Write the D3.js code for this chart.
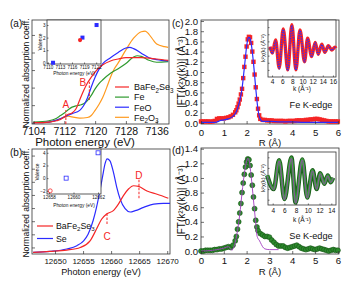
<!DOCTYPE html>
<html><head><meta charset="utf-8">
<script src="https://cdn.jsdelivr.net/npm/d3@7"></script>
<style>body{margin:0;background:#fff} text{font-family:"Liberation Sans",Arial,sans-serif}</style>
</head><body><svg id="fig" width="358" height="288"></svg>
<script>
// ---- (a) Fe K-edge XANES [energy eV, normalized mu]
const feBfs = [[7104,0.02],[7108,0.03],[7110,0.05],[7111,0.07],[7112,0.11],[7113,0.15],[7114,0.17],[7115,0.23],[7116,0.37],[7117,0.51],[7118,0.63],[7119,0.72],[7120,0.80],[7122,0.91],[7124,0.97],[7126,1.00],[7128,1.02],[7132,1.02],[7136,1.00],[7139,0.98]]
const feFoil = [[7104,0.03],[7108,0.05],[7110,0.09],[7111,0.13],[7112,0.17],[7113,0.22],[7114,0.26],[7115,0.28],[7116,0.29],[7117,0.31],[7118,0.36],[7119,0.44],[7120,0.54],[7121,0.62],[7122,0.68],[7124,0.78],[7126,0.85],[7128,0.93],[7130,1.03],[7131,1.05],[7132,1.04],[7134,0.98],[7136,0.95],[7139,0.96]]
const feO = [[7104,0.02],[7108,0.03],[7110,0.06],[7112,0.11],[7114,0.16],[7116,0.21],[7117,0.28],[7118,0.40],[7119,0.57],[7120,0.72],[7121,0.84],[7122,0.93],[7124,1.02],[7126,1.10],[7128,1.17],[7129,1.18],[7130,1.16],[7132,1.09],[7134,1.02],[7136,0.99],[7139,0.97]]
const fe2o3 = [[7104,0.02],[7108,0.03],[7110,0.06],[7112,0.10],[7113,0.12],[7114,0.11],[7116,0.09],[7118,0.10],[7119,0.13],[7120,0.21],[7121,0.30],[7122,0.41],[7123,0.56],[7124,0.72],[7125,0.85],[7126,0.94],[7128,1.14],[7130,1.32],[7132,1.42],[7133,1.43],[7134,1.38],[7135,1.30],[7136,1.23],[7138,1.19],[7139,1.18]]
const aTicks = [7104, 7112, 7120, 7128, 7136]
const aYTicks = [0.02, 0.29, 0.56, 0.83, 1.1, 1.37]
const aMarks = [{t:'A', e:7112.4, y0:0, y1:0.215, ly:0.31, lx:7112.4}, {t:'B', e:7118.5, y0:0.37, y1:0.65, ly:0.65, lx:7116.8}]
// inset (a): edge position vs valence
const valFeRef = [[7111.3,0],[7118.6,2],[7122.1,3]]
const valFeBfs = [[7118.0,1.8]]
const aInsetTicks = [7110, 7113, 7116, 7119, 7122]

// ---- (b) Se K-edge XANES
const seBfs = [[12646.1,0.026],[12649.1,0.04],[12652.1,0.06],[12654.5,0.10],[12656.25,0.20],[12657.4,0.38],[12658.3,0.53],[12659.2,0.61],[12660.4,0.66],[12661.3,0.76],[12662.2,0.89],[12663.1,0.99],[12664.0,1.04],[12664.9,1.03],[12666.4,0.96],[12668.2,0.91],[12670.2,0.85]]
const seRef = [[12646.1,0.026],[12649.1,0.04],[12652.1,0.076],[12653.9,0.127],[12655.1,0.20],[12655.9,0.30],[12656.8,0.51],[12657.4,0.71],[12658.0,0.96],[12658.5,1.19],[12658.9,1.37],[12659.3,1.45],[12659.8,1.42],[12660.4,1.25],[12661.0,1.02],[12661.6,0.84],[12662.5,0.69],[12663.4,0.64],[12664.3,0.66],[12665.8,0.71],[12667.6,0.76],[12669.3,0.77],[12670.5,0.77]]
const bTicks = [12650, 12655, 12660, 12665, 12670]
const bYTicks = [0.1, 0.3, 0.5, 0.7, 0.9, 1.1, 1.3, 1.5]
const bMarks = [{t:'C', e:12659.27, y0:0.457, y1:0.64, ly:0.27, lx:12659.27}, {t:'D', e:12664.97, y0:0.85, y1:1.14, ly:1.2, lx:12664.97}]
const valSeRef = [[12659.4,0],[12662.0,4]]
const valSeBfs = [[12658.1,-2]]
const bInsetTicks = [12658, 12660, 12662]

// ---- (c) Fe K-edge |FT| [R, value]
const ftFe = [[0,0.03],[0.1,0.03],[0.2,0.03],[0.3,0.03],[0.4,0.025],[0.5,0.03],[0.6,0.04],[0.7,0.08],[0.8,0.09],[0.9,0.09],[1.0,0.09],[1.1,0.10],[1.2,0.11],[1.3,0.13],[1.4,0.16],[1.5,0.21],[1.55,0.25],[1.6,0.31],[1.65,0.38],[1.7,0.46],[1.75,0.56],[1.8,0.67],[1.85,0.88],[1.9,1.10],[1.95,1.30],[2.0,1.50],[2.05,1.64],[2.1,1.69],[2.15,1.68],[2.2,1.57],[2.25,1.40],[2.3,1.20],[2.35,0.95],[2.4,0.70],[2.45,0.47],[2.5,0.28],[2.55,0.15],[2.6,0.08],[2.7,0.06],[2.8,0.06],[2.9,0.05],[3.0,0.05],[3.1,0.05],[3.2,0.04],[3.3,0.04],[3.4,0.04],[3.5,0.04],[3.6,0.04],[3.7,0.03],[3.8,0.04],[3.9,0.04],[4.0,0.04],[4.1,0.04],[4.2,0.05],[4.3,0.05],[4.4,0.05],[4.5,0.05],[4.6,0.06],[4.7,0.06],[4.8,0.07],[4.9,0.07],[5.0,0.08],[5.1,0.08],[5.2,0.07],[5.3,0.06],[5.4,0.05],[5.5,0.04],[5.6,0.03],[5.7,0.03],[5.8,0.03],[5.9,0.03],[6.0,0.03]]
const ftFeFit = [[0,0.01],[0.5,0.01],[0.7,0.02],[0.8,0.04],[1.0,0.06],[1.2,0.08],[1.4,0.13],[1.5,0.18],[1.6,0.28],[1.7,0.44],[1.8,0.68],[1.9,1.08],[2.0,1.50],[2.05,1.64],[2.1,1.68],[2.15,1.66],[2.2,1.56],[2.3,1.18],[2.4,0.68],[2.5,0.26],[2.6,0.07],[2.7,0.03],[3.0,0.03],[3.5,0.02],[4.0,0.02],[4.5,0.01],[5.0,0.01],[5.5,0.01],[6.0,0.01]]
const cYTicks = [0, 0.2, 0.4, 0.6, 0.8, 1.0, 1.2, 1.4, 1.6, 1.8, 2.0]
// inset (c): k^2 chi(k) [k, value]
const chiFe = [[3.6,0.8],[4.06,-1.9],[4.7,3.6],[5.4,-8.2],[6.2,8.2],[7.1,-9.0],[7.9,10.0],[8.7,-9.0],[9.5,7.8],[10.4,-5.6],[11.0,4.3],[11.8,-3.4],[12.5,2.6],[13.1,-2.4],[13.8,1.8],[14.4,-1.6],[15.1,1.2],[15.75,-0.6],[16.4,0.5],[16.6,0.1]]
const chiFeFit = [[3.6,0.5],[4.06,-2.2],[4.7,3.2],[5.4,-8.5],[6.2,8.0],[7.1,-9.3],[7.9,9.8],[8.7,-9.2],[9.5,7.6],[10.4,-5.8],[11.0,4.1],[11.8,-3.6],[12.5,2.5],[13.1,-2.5],[13.8,1.6],[14.4,-1.7],[15.1,1.1],[15.75,-0.7],[16.4,0.4],[16.6,0.1]]
const cInsetTicks = [4, 6, 8, 10, 12, 14, 16]

// ---- (d) Se K-edge |FT|
const ftSe = [[0,0],[0.1,0],[0.2,0.01],[0.3,0.01],[0.4,0.01],[0.5,0.01],[0.6,0.02],[0.7,0.02],[0.8,0.03],[0.9,0.03],[1.0,0.04],[1.1,0.05],[1.2,0.06],[1.3,0.05],[1.4,0.08],[1.5,0.14],[1.55,0.20],[1.6,0.30],[1.65,0.40],[1.7,0.52],[1.75,0.65],[1.8,0.80],[1.85,0.93],[1.9,1.05],[1.95,1.15],[2.0,1.22],[2.05,1.26],[2.1,1.25],[2.15,1.17],[2.2,1.04],[2.25,0.90],[2.3,0.74],[2.35,0.58],[2.4,0.42],[2.45,0.33],[2.5,0.28],[2.6,0.24],[2.7,0.22],[2.8,0.20],[2.9,0.20],[3.0,0.19],[3.1,0.15],[3.2,0.12],[3.3,0.09],[3.4,0.07],[3.5,0.07],[3.6,0.07],[3.7,0.05],[3.8,0.04],[3.9,0.05],[4.0,0.06],[4.1,0.07],[4.2,0.08],[4.3,0.06],[4.4,0.04],[4.5,0.03],[4.6,0.02],[4.7,0.03],[4.8,0.04],[4.9,0.03],[5.0,0.02],[5.1,0.03],[5.2,0.04],[5.3,0.03],[5.4,0.02],[5.5,0.01],[5.6,0],[5.7,0.01],[5.8,0.02],[5.9,0.01],[6.0,0.01]]
const ftSeFit = [[0,0],[0.5,0.01],[1.0,0.04],[1.2,0.06],[1.3,0.03],[1.35,0.01],[1.4,0.03],[1.5,0.12],[1.6,0.28],[1.7,0.50],[1.8,0.80],[1.9,1.06],[2.0,1.23],[2.05,1.27],[2.1,1.25],[2.2,1.02],[2.3,0.70],[2.4,0.38],[2.45,0.22],[2.5,0.17],[2.55,0.15],[2.6,0.12],[2.7,0.06],[2.8,0.03],[3.0,0.02],[3.2,0.02],[3.4,0.02]]
const dYTicks = [0, 0.2, 0.4, 0.6, 0.8, 1.0, 1.2, 1.4]
const chiSe = [[3.06,1.15],[4.17,-4.0],[5.1,6.9],[6.0,-7.8],[7.2,7.9],[7.9,-9.1],[9.05,7.2],[9.9,-7.2],[10.8,3.1],[11.5,-4.0],[12.1,2.0],[12.8,-2.0],[13.4,1.15],[13.9,-1.4],[14.3,0.3]]
const chiSeFit = [[3.06,0.9],[4.17,-4.2],[5.1,6.6],[6.0,-8.0],[7.2,7.6],[7.9,-9.3],[9.05,7.0],[9.9,-7.4],[10.8,2.9],[11.5,-4.1],[12.1,1.8],[12.8,-2.1],[13.4,1.0],[13.9,-1.5],[14.3,0.2]]
const dInsetTicks = [4, 6, 8, 10, 12, 14]
const rTicks = [0, 1, 2, 3, 4, 5, 6]

const RED = '#f52525', GREEN = '#2f9a2f', BLUE = '#2b2bff', ORANGE = '#ff9a1f', PURPLE = '#a23cc0'
const INT = d3.format('d')
const svg = d3.select('#fig')

function panel(xd, xr, yd, yr) {
  return { x: d3.scaleLinear().domain(xd).range(xr), y: d3.scaleLinear().domain(yd).range(yr) }
}
function box(p, fill) {
  const [x0, x1] = p.x.range(), [y0, y1] = p.y.range()
  svg.append('rect').attr('x', x0).attr('y', y1).attr('width', x1 - x0).attr('height', y0 - y1)
    .attr('fill', fill || 'none').attr('stroke', '#333').attr('stroke-width', 0.8)
}
function xAxis(p, ticks, fs, pad, size) {
  const ax = d3.axisBottom(p.x).tickValues(ticks).tickSize(-size).tickSizeOuter(0).tickPadding(pad).tickFormat(INT)
  const g = svg.append('g').attr('transform', `translate(0,${p.y.range()[0]})`).call(ax)
  g.select('.domain').remove()
  g.selectAll('text').attr('font-size', fs).attr('fill', '#111').attr('font-family', null)
  g.selectAll('line').attr('stroke', '#333').attr('stroke-width', 0.7)
}
function yAxis(p, ticks, fs, pad, size, fmt) {
  const ax = d3.axisLeft(p.y).tickValues(ticks).tickSize(-size).tickSizeOuter(0).tickPadding(pad)
  ax.tickFormat(fmt || (() => ''))
  const g = svg.append('g').attr('transform', `translate(${p.x.range()[0]},0)`).call(ax)
  g.select('.domain').remove()
  g.selectAll('text').attr('font-size', fs).attr('fill', '#111').attr('font-family', null)
  g.selectAll('line').attr('stroke', '#333').attr('stroke-width', 0.7)
}
function curve(p, data, color, w, dash) {
  const line = d3.line().x(d => p.x(d[0])).y(d => p.y(d[1])).curve(d3.curveMonotoneX)
  return svg.append('path').attr('d', line(data)).attr('fill', 'none')
    .attr('stroke', color).attr('stroke-width', w).attr('stroke-dasharray', dash || null)
}
function label(x, y, str, fs, opts = {}) {
  const t = svg.append('text').attr('x', x).attr('y', y).attr('font-size', fs)
    .attr('fill', opts.fill || '#111').attr('text-anchor', opts.anchor || 'start')
  if (opts.rot) t.attr('transform', `rotate(-90,${x},${y})`)
  t.text(str)
  return t
}
// text with subscripts: parts like ['BaFe', '2', 'Se', '3'] (odd index = subscript)
function chem(x, y, parts, fs) {
  const t = svg.append('text').attr('x', x).attr('y', y).attr('font-size', fs).attr('fill', '#111')
  parts.forEach((s, i) => {
    const sp = t.append('tspan').text(s)
    if (i % 2) sp.attr('font-size', fs * 0.7).attr('dy', fs * 0.25)
    else if (i > 0) sp.attr('dy', -fs * 0.25)
  })
}

// ================= (a)
const pa = panel([7103.6, 7139.2], [32, 169], [0, 1.6], [124, 20])
box(pa)
curve(pa, fe2o3, ORANGE, 1.2)
curve(pa, feFoil, GREEN, 1.2)
curve(pa, feO, BLUE, 1.2)
curve(pa, feBfs, RED, 1.2)
xAxis(pa, aTicks, 10.5, 4, 3)
yAxis(pa, aYTicks, 8, 3, 3)
aMarks.forEach(m => {
  svg.append('line').attr('x1', pa.x(m.e)).attr('x2', pa.x(m.e)).attr('y1', pa.y(m.y0)).attr('y2', pa.y(m.y1))
    .attr('stroke', RED).attr('stroke-width', 1).attr('stroke-dasharray', '2.5 1.5')
  label(pa.x(m.lx), pa.y(m.ly) + 4, m.t, 10, { fill: RED, anchor: 'middle' })
})
// legend
const aLeg = [[['BaFe', '2', 'Se', '3'], RED], [['Fe'], GREEN], [['FeO'], BLUE], [['Fe', '2', 'O', '3'], ORANGE]]
aLeg.forEach((d, i) => {
  const y = 87 + i * 10.1
  svg.append('line').attr('x1', 115).attr('x2', 129).attr('y1', y).attr('y2', y).attr('stroke', d[1]).attr('stroke-width', 1.2)
  chem(134, y + 3.3, d[0], 9)
})
label(85, 146, 'Photon energy (eV)', 11.5, { anchor: 'middle' })
label(29, 73, 'Normalized absorption coeff.', 8.6, { anchor: 'middle', rot: true })
label(10, 27, '(a)', 10)

// inset (a)
const pai = panel([7109.8, 7123.2], [47, 101], [-0.1, 3.4], [64, 20])
box(pai, '#fff')
xAxis(pai, aInsetTicks, 4.6, 1.5, 1.5)
yAxis(pai, [0, 1, 2, 3], 4.6, 1.5, 1.5, INT)
svg.selectAll('.ins').data(valFeRef).enter().append('rect')
  .attr('x', d => pai.x(d[0]) - 2).attr('y', d => pai.y(d[1]) - 2).attr('width', 4).attr('height', 4).attr('fill', BLUE)
svg.selectAll('.ins2').data(valFeBfs).enter().append('circle')
  .attr('cx', d => pai.x(d[0])).attr('cy', d => pai.y(d[1])).attr('r', 2.1).attr('fill', RED)
label(74, 75, 'Photon energy (eV)', 4.8, { anchor: 'middle' })
label(41.5, 42, 'Valence', 4.8, { anchor: 'middle', rot: true })

// ================= (b)
const pb = panel([12645.9, 12670.5], [32, 170], [0, 1.6], [254, 149])
box(pb)
curve(pb, seRef, BLUE, 1.2)
curve(pb, seBfs, RED, 1.2)
xAxis(pb, bTicks, 8, 4, 3)
yAxis(pb, bYTicks, 8, 3, 3)
bMarks.forEach(m => {
  svg.append('line').attr('x1', pb.x(m.e)).attr('x2', pb.x(m.e)).attr('y1', pb.y(m.y0)).attr('y2', pb.y(m.y1))
    .attr('stroke', RED).attr('stroke-width', 1).attr('stroke-dasharray', '2.5 1.5')
  label(pb.x(m.lx), pb.y(m.ly) + 4, m.t, 10, { fill: RED, anchor: 'middle' })
})
const bLeg = [[['BaFe', '2', 'Se', '3'], RED], [['Se'], BLUE]]
bLeg.forEach((d, i) => {
  const y = 226 + i * 12.5
  svg.append('line').attr('x1', 37).attr('x2', 53).attr('y1', y).attr('y2', y).attr('stroke', d[1]).attr('stroke-width', 1.2)
  chem(56, y + 3.2, d[0], 8.8)
})
label(101, 275, 'Photon energy (eV)', 9.2, { anchor: 'middle' })
label(29, 203, 'Normalized absorption coeff.', 8.6, { anchor: 'middle', rot: true })
label(10, 156, '(b)', 10)

// inset (b)
const pbi = panel([12657.84, 12662.24], [47, 101], [-2.5, 4.6], [194, 149])
box(pbi, '#fff')
xAxis(pbi, bInsetTicks, 4.6, 2, 1.5)
yAxis(pbi, [-2, 0, 2, 4], 4.6, 1.5, 1.5, INT)
svg.selectAll('.insb').data(valSeRef).enter().append('rect')
  .attr('x', d => pbi.x(d[0]) - 2).attr('y', d => pbi.y(d[1]) - 2).attr('width', 4).attr('height', 4)
  .attr('fill', 'none').attr('stroke', BLUE).attr('stroke-width', 0.8)
svg.selectAll('.insb2').data(valSeBfs).enter().append('circle')
  .attr('cx', d => pbi.x(d[0])).attr('cy', d => pbi.y(d[1])).attr('r', 2).attr('fill', 'none').attr('stroke', RED).attr('stroke-width', 0.8)
label(74, 207, 'Photon energy (eV)', 4.8, { anchor: 'middle' })
label(38.5, 172, 'Valence', 4.8, { anchor: 'middle', rot: true })

// ================= (c)
const pc = panel([0, 6.05], [201, 339], [-0.02, 2.02], [124, 20])
box(pc)
svg.selectAll('.sq').data(ftFe).enter().append('rect')
  .attr('x', d => pc.x(d[0]) - 2.2).attr('y', d => pc.y(d[1]) - 2.2).attr('width', 4.4).attr('height', 4.4).attr('fill', RED)
curve(pc, ftFeFit, BLUE, 1.2)
xAxis(pc, rTicks, 9.6, 5, 3)
yAxis(pc, cYTicks, 9.6, 3, 3, d3.format('.1f'))
label(311, 108, 'Fe K-edge', 9.2, { anchor: 'middle' })
label(270, 146, 'R (Å)', 9.6, { anchor: 'middle' })
label(185, 72, '|FT(k²χ(k))| (Å⁻³)', 10, { anchor: 'middle', rot: true })
label(172, 27, '(c)', 10)

// inset (c)
const pci = panel([3.2, 16.6], [268, 336], [-12, 12], [77, 20])
box(pci, '#fff')
curve(pci, chiFe, RED, 3.4)
curve(pci, chiFeFit, BLUE, 1.4, '1.2 1.2')
xAxis(pci, cInsetTicks, 6.5, 2, 1.5)
yAxis(pci, [-9, -6, -3, 0, 3, 6, 9], 5, 1.5, 1.5)
label(302, 91, 'k (Å⁻¹)', 6.5, { anchor: 'middle' })
label(264.5, 48, 'k²χ(k) (Å⁻²)', 5.8, { anchor: 'middle', rot: true })

// ================= (d)
const pd = panel([0, 6.05], [201, 339], [-0.04, 1.41], [254, 148])
box(pd)
svg.selectAll('.ci').data(ftSe).enter().append('circle')
  .attr('cx', d => pd.x(d[0])).attr('cy', d => pd.y(d[1])).attr('r', 2.5)
  .attr('fill', '#2d8a2d').attr('stroke', '#145214').attr('stroke-width', 0.6)
curve(pd, ftSeFit, PURPLE, 0.9)
xAxis(pd, rTicks, 9.6, 3, 3)
yAxis(pd, dYTicks, 9.6, 3, 3, d3.format('.1f'))
label(311, 239, 'Se K-edge', 9.2, { anchor: 'middle' })
label(270, 275, 'R (Å)', 9.6, { anchor: 'middle' })
label(185, 201, '|FT(k²χ(k))| (Å⁻³)', 10, { anchor: 'middle', rot: true })
label(172, 154, '(d)', 10)

// inset (d)
const pdi = panel([3.2, 14.8], [268, 336], [-10, 10], [205, 152])
box(pdi, '#fff')
curve(pdi, chiSe, '#1a5e1a', 4.4)
curve(pdi, chiSe, '#3c9c3c', 2.6)
curve(pdi, chiSeFit, PURPLE, 0.8)
xAxis(pdi, dInsetTicks, 6.5, 3.5, 1.5)
yAxis(pdi, [-8, -4, 0, 4, 8], 5, 1.5, 1.5)
label(302, 222, 'k (Å⁻¹)', 6.5, { anchor: 'middle' })
label(264.5, 178, 'k²χ(k) (Å⁻²)', 5.8, { anchor: 'middle', rot: true })
</script></body></html>
